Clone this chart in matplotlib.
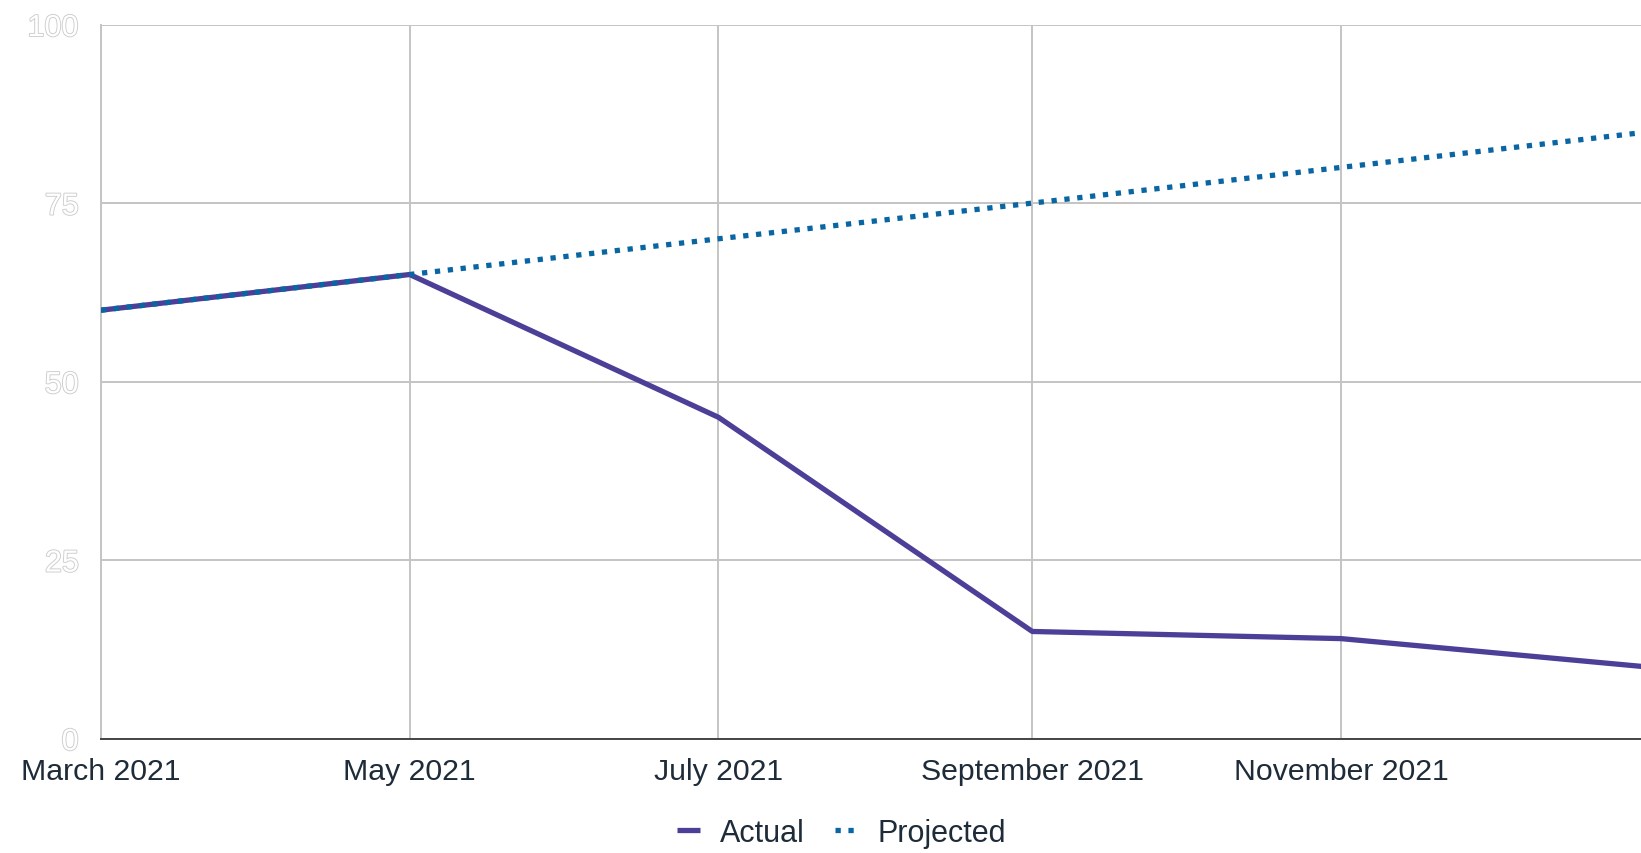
import datetime as dt
import matplotlib
matplotlib.use("Agg")
from matplotlib import pyplot as plt
import matplotlib.patheffects as pe

plt.rcParams["font.family"] = ["Liberation Sans", "DejaVu Sans"]

# data
dates = [dt.datetime(2021, 3, 1), dt.datetime(2021, 5, 1), dt.datetime(2021, 7, 1),
         dt.datetime(2021, 9, 1), dt.datetime(2021, 11, 1), dt.datetime(2022, 1, 1)]
actual = [60, 65, 45, 15, 14, 10]
projected = [60, 65, 70, 75, 80, 85]
tick_dates = dates[:5]
tick_labels = ["March 2021", "May 2021", "July 2021", "September 2021", "November 2021"]
y_ticks = [0, 25, 50, 75, 100]

fig = plt.figure(figsize=(16.41, 8.54), dpi=100)
ax = fig.add_axes([0.0615, 0.134, 0.9385, 0.836])

ax.plot(dates, actual, color="#4b3f98", lw=3.8, label="Actual", solid_capstyle="butt", zorder=3)
ax.plot(dates, projected, color="#0a66a3", lw=3.8, linestyle=(0, (1.0, 1.45)),
        dash_capstyle="butt", label="Projected", zorder=4)

ax.set_ylim(0, 100)
ax.set_xlim(dt.datetime(2021, 3, 1), dt.datetime(2021, 12, 30, 6))
ax.set_yticks(y_ticks)
ax.set_xticks(tick_dates)
ax.set_xticklabels(tick_labels)

ax.grid(True, color="#c4c4c4", lw=1.4)
ax.set_axisbelow(True)
for s in ["top", "right"]:
    ax.spines[s].set_visible(False)
ax.spines["left"].set_color("#c4c4c4")
ax.spines["left"].set_linewidth(1.4)
ax.spines["bottom"].set_color("#444444")
ax.spines["bottom"].set_linewidth(1.4)

ax.tick_params(axis="both", length=0)
ax.tick_params(axis="x", labelsize=21.8, colors="#1e2b38", pad=13)
ax.tick_params(axis="y", labelsize=22, pad=16)
for t in ax.get_yticklabels():
    t.set_color("white")
    t.set_path_effects([pe.withStroke(linewidth=1.3, foreground="#cccccc")])

leg = fig.legend(loc="center", bbox_to_anchor=(0.5128, 0.024), ncol=2, frameon=False,
                 fontsize=22, handlelength=0.75, handletextpad=0.65, columnspacing=1.0)
for t in leg.get_texts():
    t.set_color("#1e2b38")

fig.savefig("out.png", dpi=100)
